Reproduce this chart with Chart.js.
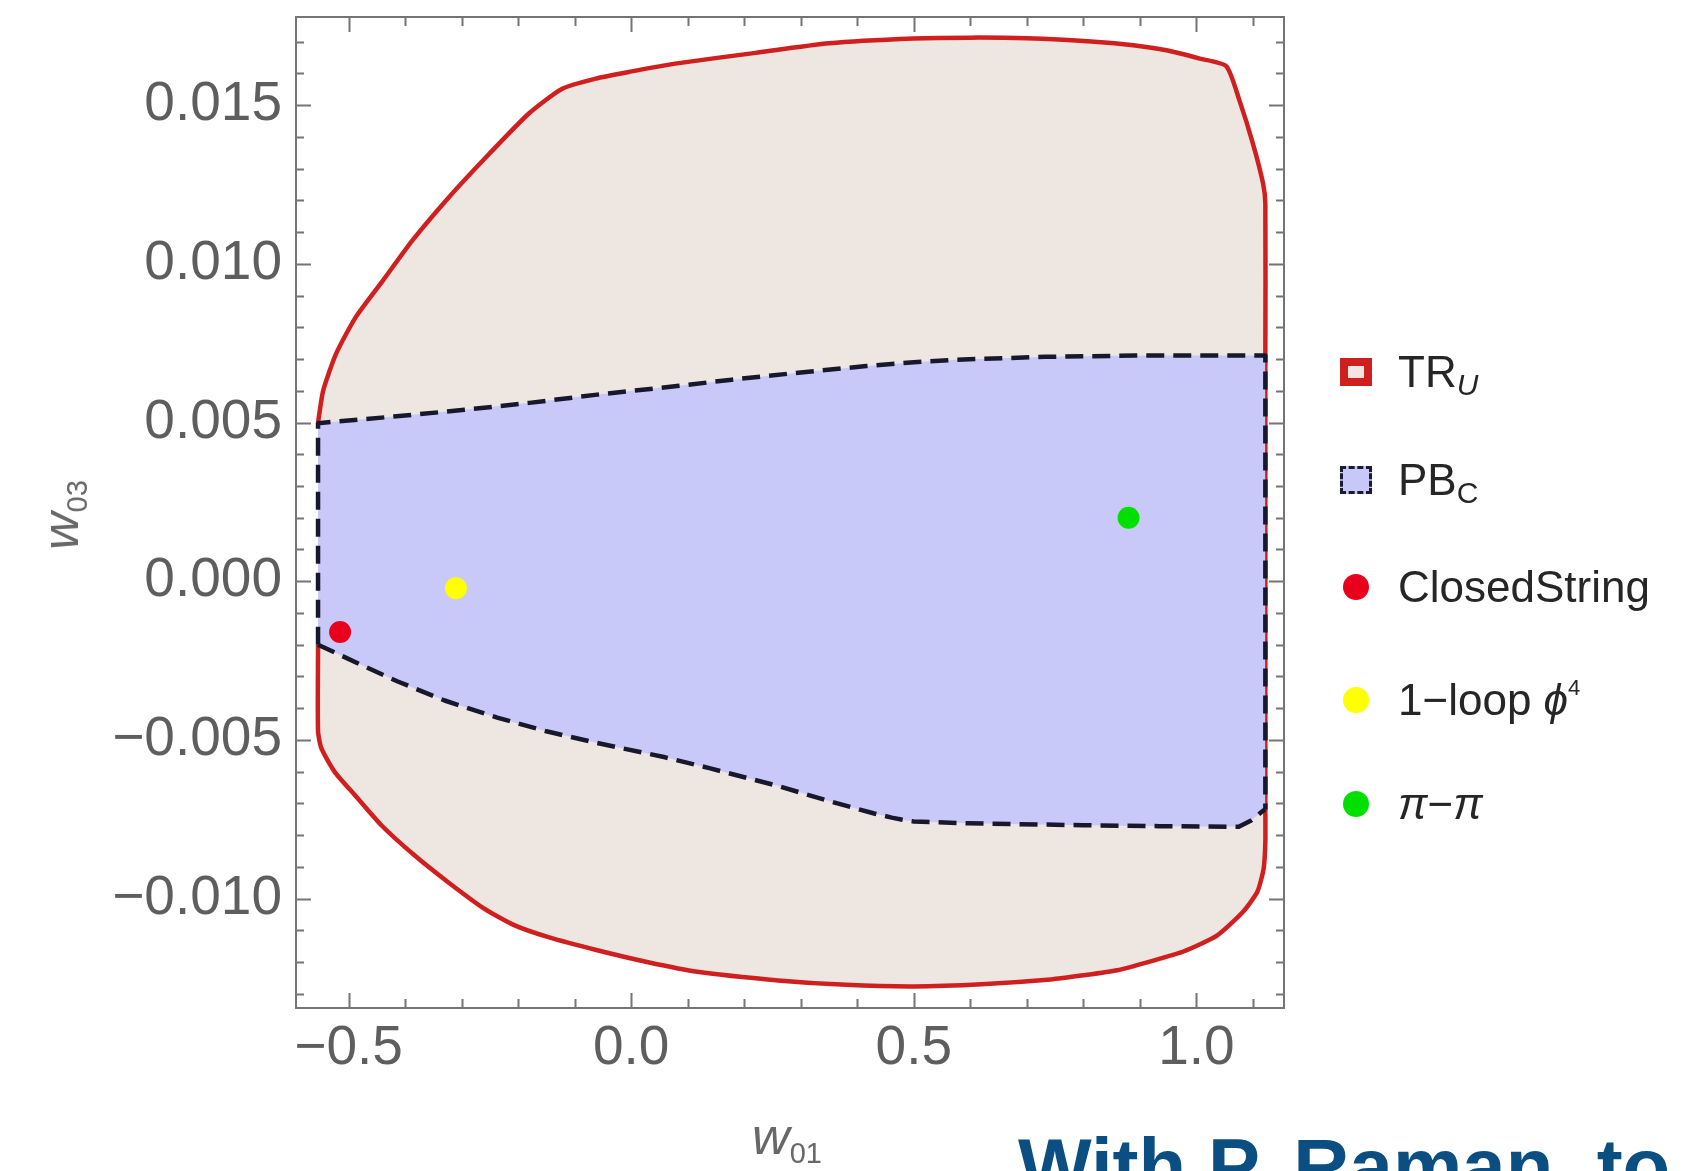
<!DOCTYPE html>
<html>
<head>
<meta charset="utf-8">
<script src="https://cdn.jsdelivr.net/npm/chart.js@4.4.0/dist/chart.umd.min.js"></script>
<style>
  html, body { margin: 0; padding: 0; background: #fff; overflow: hidden; }
  #wrap { position: relative; width: 1690px; height: 1171px; overflow: hidden; font-family: "Liberation Sans", Arial, sans-serif; }
  canvas { position: absolute; left: 0; top: 0; }
  .ttl { position: absolute; color: #686868; font-size: 52px; line-height: 1; white-space: nowrap; transform: translate(-50%, -50%); }
  .ttl sub { font-size: 29px; vertical-align: -9px; line-height: 0; }
  #yTitle { transform: translate(-50%, -50%) rotate(-90deg); }
  .leg { position: absolute; left: 1340px; height: 50px; display: flex; align-items: center; font-size: 44px; color: #262626; white-space: nowrap; line-height: 1; }
  .leg sub { font-size: 30px; vertical-align: -8px; line-height: 0; }
  .leg sup { font-size: 22px; vertical-align: 20px; line-height: 0; }
  .mk { display: inline-block; width: 32px; height: 28px; margin-right: 26px; box-sizing: border-box; }
  .sq { border: 8px solid #cf1f1f; background: #f3e6e0; }
  .dsq { border: 3px dashed #1c1c30; background: #c8c8f8; }
  .dot { width: 26px; height: 26px; border-radius: 50%; margin-left: 3px; margin-right: 29px; }
  #note { position: absolute; left: 1018px; top: 1127px; font-weight: bold; font-size: 78px; line-height: 1; color: #0b4f82; white-space: nowrap; }
</style>
</head>
<body>
<div id="wrap">
  <canvas id="chart" width="1690" height="1171"></canvas>
  <div class="ttl" id="xTitle" style="left:787px; top:1136px;"><i>w</i><sub>01</sub></div>
  <div class="ttl" id="yTitle" style="left:60px; top:515px;"><i>w</i><sub>03</sub></div>

  <div class="leg" style="top:347px;"><span class="mk sq"></span><span>TR<sub><i>U</i></sub></span></div>
  <div class="leg" style="top:455px;"><span class="mk dsq"></span><span>PB<sub>C</sub></span></div>
  <div class="leg" style="top:562px;"><span class="mk dot" style="background:#e8001c;"></span><span>ClosedString</span></div>
  <div class="leg" style="top:675px;"><span class="mk dot" style="background:#ffff00;"></span><span>1−loop <i>ϕ</i><sup>4</sup></span></div>
  <div class="leg" style="top:779px;"><span class="mk dot" style="background:#00e000;"></span><span><i>π</i>−<i>π</i></span></div>

  <div id="note">With P. Raman, to</div>
</div>

<script>
// ---- data (w01 on x, w03 on y) ----
const xMin = -0.593, xMax = 1.155;
const yMin = -0.01345, yMax = 0.01778;

const xTickValues = [-0.5, 0, 0.5, 1.0];
const xTickLabels = ['\u22120.5', '0.0', '0.5', '1.0'];
const yTickValues = [-0.010, -0.005, 0, 0.005, 0.010, 0.015];
const yTickLabels = ['\u22120.010', '\u22120.005', '0.000', '0.005', '0.010', '0.015'];
const xMinorStep = 0.1;
const yMinorStep = 0.001;

// TR_U region: upper and lower red boundary
const trTopX = [-0.554, -0.545, -0.522, -0.487, -0.439, -0.387, -0.322, -0.251, -0.181, -0.122, -0.063, -0.004, 0.078, 0.22, 0.35, 0.5, 0.6, 0.7, 0.82, 0.888, 0.947, 1.006, 1.053, 1.076, 1.100, 1.118, 1.122, 1.122, 1.122];
const trTopY = [0.0050, 0.0060, 0.00717, 0.00833, 0.00948, 0.01074, 0.01211, 0.01347, 0.01474, 0.01552, 0.01584, 0.01605, 0.01631, 0.01665, 0.01695, 0.01710, 0.01713, 0.01711, 0.01700, 0.01689, 0.01673, 0.01647, 0.01623, 0.01516, 0.01379, 0.01253, 0.0119, 0.0071, -0.0072];
const trBotX = [-0.554, -0.554, -0.548, -0.525, -0.489, -0.442, -0.384, -0.325, -0.26, -0.207, -0.148, -0.06, 0.028, 0.117, 0.26, 0.38, 0.5, 0.62, 0.742, 0.80, 0.86, 0.919, 0.977, 1.037, 1.083, 1.108, 1.119, 1.122, 1.122];
const trBotY = [-0.0020, -0.00473, -0.00527, -0.0060, -0.00674, -0.00769, -0.00863, -0.00947, -0.01032, -0.01084, -0.01121, -0.01163, -0.0120, -0.01231, -0.01258, -0.01272, -0.01277, -0.0127, -0.01255, -0.01242, -0.01226, -0.01198, -0.01167, -0.01116, -0.01041, -0.00978, -0.00906, -0.00821, -0.0072];

// PB_C region: dashed boundary
const pbTopX = [-0.554, -0.554, -0.4, -0.295, -0.18, -0.06, 0.081, 0.178, 0.3, 0.416, 0.5, 0.575, 0.733, 0.892, 1.122, 1.122];
const pbTopY = [-0.0020, 0.00498, 0.00522, 0.0054, 0.00562, 0.00588, 0.00615, 0.00635, 0.00658, 0.00678, 0.0069, 0.00698, 0.00707, 0.00711, 0.00711, -0.0072];
const pbBotX = [-0.554, -0.48, -0.413, -0.33, -0.237, -0.15, -0.06, 0.06, 0.14, 0.259, 0.36, 0.43, 0.461, 0.48, 0.50, 0.596, 0.799, 0.934, 1.075, 1.096, 1.119, 1.122];
const pbBotY = [-0.0020, -0.00262, -0.00316, -0.00376, -0.0043, -0.00473, -0.0051, -0.00555, -0.0059, -0.00645, -0.00698, -0.00732, -0.00745, -0.00752, -0.00757, -0.00763, -0.00769, -0.00772, -0.00774, -0.00755, -0.00722, -0.0072];

// single points
const closedStringX = [-0.515], closedStringY = [-0.0016];
const oneLoopX = [-0.31], oneLoopY = [-0.00022];
const piPiX = [0.88], piPiY = [0.0020];

function pts(xs, ys) {
    return xs.map((x, i) => ({ x: x, y: ys[i] }));
}
function near(list, v) {
    return list.findIndex(t => Math.abs(t - v) < 1e-9);
}

// frame with inward ticks on all four sides (Mathematica style)
const frameTicks = {
    id: 'frameTicks',
    afterDatasetsDraw(chart) {
        const { ctx, chartArea: a, scales } = chart;
        const x = scales.x, y = scales.y;
        ctx.save();
        ctx.strokeStyle = '#747474';
        ctx.lineWidth = 2;
        ctx.beginPath();
        for (let k = Math.ceil(xMin / xMinorStep - 1e-9); k * xMinorStep <= xMax + 1e-9; k++) {
            const v = k * xMinorStep;
            const len = near(xTickValues, v) >= 0 ? 15 : 9;
            const px = Math.round(x.getPixelForValue(v)) + 0.5;
            ctx.moveTo(px, a.bottom); ctx.lineTo(px, a.bottom - len);
            ctx.moveTo(px, a.top); ctx.lineTo(px, a.top + len);
        }
        for (let k = Math.ceil(yMin / yMinorStep - 1e-9); k * yMinorStep <= yMax + 1e-9; k++) {
            const v = k * yMinorStep;
            const len = near(yTickValues, v) >= 0 ? 15 : 8;
            const py = Math.round(y.getPixelForValue(v)) + 0.5;
            ctx.moveTo(a.left, py); ctx.lineTo(a.left + len, py);
            ctx.moveTo(a.right, py); ctx.lineTo(a.right - len, py);
        }
        ctx.stroke();
        ctx.strokeRect(a.left, a.top, a.right - a.left, a.bottom - a.top);
        ctx.restore();
    }
};

const tickFont = { family: "'Liberation Sans', Arial, sans-serif", size: 55 };
const redLine = { borderColor: '#d01f1f', borderWidth: 4.5, borderJoinStyle: 'round', tension: 0.2, pointRadius: 0 };
const dashLine = { borderColor: '#18182c', borderWidth: 4.5, borderDash: [18, 9], borderJoinStyle: 'round', tension: 0, pointRadius: 0 };

new Chart(document.getElementById('chart'), {
    type: 'scatter',
    data: {
        datasets: [
            Object.assign({ label: 'TR_U top', data: pts(trTopX, trTopY), showLine: true, order: 4, fill: false }, redLine),
            Object.assign({ label: 'TR_U bottom', data: pts(trBotX, trBotY), showLine: true, order: 4,
                backgroundColor: '#eee6e1', fill: '-1' }, redLine),
            Object.assign({ label: 'PB_C top', data: pts(pbTopX, pbTopY), showLine: true, order: 3, fill: false }, dashLine),
            Object.assign({ label: 'PB_C bottom', data: pts(pbBotX, pbBotY), showLine: true, order: 3,
                backgroundColor: '#c9c9f9', fill: '-1' }, dashLine),
            {
                label: 'ClosedString', data: pts(closedStringX, closedStringY), order: 1,
                backgroundColor: '#e8001c', borderWidth: 0, pointRadius: 11
            },
            {
                label: '1-loop phi4', data: pts(oneLoopX, oneLoopY), order: 1,
                backgroundColor: '#ffff00', borderWidth: 0, pointRadius: 11
            },
            {
                label: 'pi-pi', data: pts(piPiX, piPiY), order: 1,
                backgroundColor: '#00e000', borderWidth: 0, pointRadius: 11
            }
        ]
    },
    options: {
        responsive: false,
        devicePixelRatio: 1,
        animation: false,
        layout: { padding: { top: 17, right: 406, bottom: 0, left: 0 } },
        plugins: {
            legend: { display: false },
            tooltip: { enabled: false }
        },
        scales: {
            x: {
                type: 'linear', min: xMin, max: xMax,
                grid: { display: false, drawTicks: false, tickLength: 0 },
                border: { display: false },
                afterBuildTicks: s => { s.ticks = xTickValues.map(v => ({ value: v })); },
                afterFit: s => { s.height = 163; s.paddingLeft = 0; s.paddingRight = 0; },
                ticks: {
                    includeBounds: false, autoSkip: false, maxRotation: 0, minRotation: 0,
                    padding: 8, color: '#5e5e5e', font: tickFont,
                    callback: v => xTickLabels[near(xTickValues, v)]
                }
            },
            y: {
                type: 'linear', min: yMin, max: yMax,
                grid: { display: false, drawTicks: false, tickLength: 0 },
                border: { display: false },
                afterBuildTicks: s => { s.ticks = yTickValues.map(v => ({ value: v })); },
                afterFit: s => { s.width = 296; s.paddingTop = 0; s.paddingBottom = 0; },
                ticks: {
                    includeBounds: false, autoSkip: false,
                    padding: 14, color: '#5e5e5e', font: tickFont,
                    callback: v => yTickLabels[near(yTickValues, v)]
                }
            }
        }
    },
    plugins: [frameTicks]
});
</script>
</body>
</html>
